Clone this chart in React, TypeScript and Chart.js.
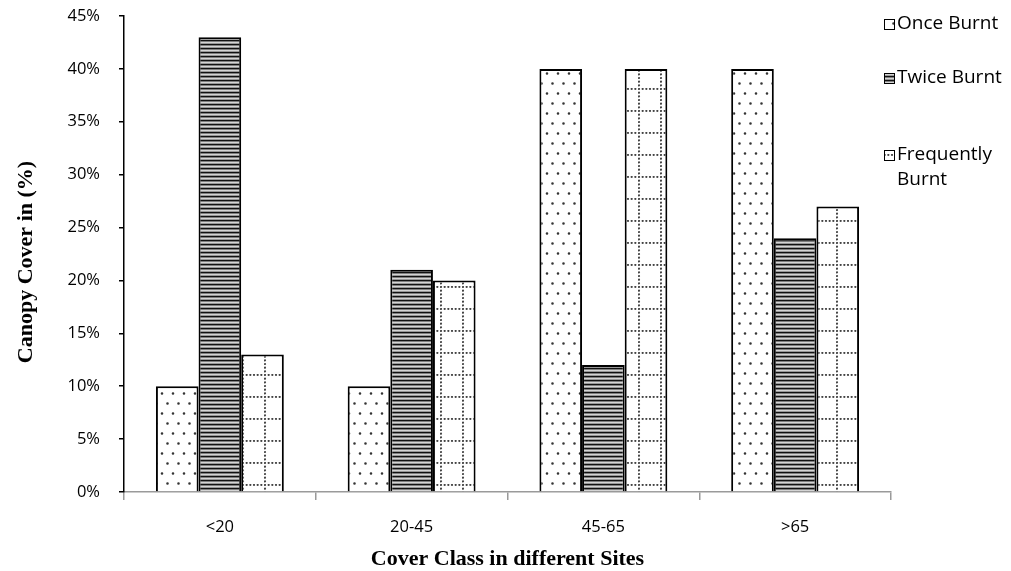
import React, { useEffect, useRef } from "react";
import { Chart, registerables } from "chart.js";

Chart.register(...registerables);

const categories = ["<20", "20-45", "45-65", ">65"];
const onceBurnt = [10, 10, 40, 40];
const twiceBurnt = [43, 21, 12, 24];
const frequentlyBurnt = [13, 20, 40, 27];
const seriesNames = ["Once Burnt", "Twice Burnt", "Frequently Burnt"];
const legendLines = [["Once Burnt"], ["Twice Burnt"], ["Frequently", "Burnt"]];
const yTicks = [0, 5, 10, 15, 20, 25, 30, 35, 40, 45];

const TICK_FONT = "'Open Sans', sans-serif";

function makeTile(w: number, h: number, draw: (c: CanvasRenderingContext2D) => void) {
  const cv = document.createElement("canvas");
  cv.width = w;
  cv.height = h;
  const c = cv.getContext("2d")!;
  c.fillStyle = "#ffffff";
  c.fillRect(0, 0, w, h);
  draw(c);
  return cv;
}

function makePatterns(ctx: CanvasRenderingContext2D) {
  const dots = makeTile(11, 20, (c) => {
    c.fillStyle = "#333";
    c.beginPath();
    c.arc(2.5, 3.5, 1.3, 0, Math.PI * 2);
    c.arc(8, 13.5, 1.3, 0, Math.PI * 2);
    c.fill();
  });
  const stripes = makeTile(4, 4, (c) => {
    c.fillStyle = "#111";
    c.fillRect(0, 0, 4, 1.5);
    c.fillStyle = "#777";
    c.fillRect(0, 1.5, 4, 0.7);
    c.fillStyle = "#d0d0d0";
    c.fillRect(0, 2.2, 4, 1.0);
    c.fillStyle = "#808080";
    c.fillRect(0, 3.2, 4, 0.8);
  });
  const grid = makeTile(22, 22, (c) => {
    c.fillStyle = "#444";
    for (let i = 0; i < 6; i++) {
      const p = i * (22 / 6) + 1;
      c.beginPath();
      c.arc(p, 1, 1.1, 0, Math.PI * 2);
      c.fill();
      if (i > 0) {
        c.beginPath();
        c.arc(1, p, 1.1, 0, Math.PI * 2);
        c.fill();
      }
    }
  });
  return [
    ctx.createPattern(dots, "repeat")!,
    ctx.createPattern(stripes, "repeat")!,
    ctx.createPattern(grid, "repeat")!,
  ];
}

export default function App() {
  const ref = useRef<HTMLCanvasElement | null>(null);

  useEffect(() => {
    const canvas = ref.current!;
    const ctx = canvas.getContext("2d")!;
    const patterns = makePatterns(ctx);

    const overlay = {
      id: "overlay",
      afterDraw(chart: any) {
        const c = chart.ctx as CanvasRenderingContext2D;
        const area = chart.chartArea;
        c.save();
        c.fillStyle = "#000";
        c.font = "bold 22px 'Liberation Serif', 'Times New Roman', serif";
        c.textAlign = "center";
        c.textBaseline = "middle";
        c.fillText("Cover Class in different Sites", (area.left + area.right) / 2, 559);
        c.save();
        c.translate(26, 262);
        c.rotate(-Math.PI / 2);
        c.fillText("Canopy Cover in (%)", 0, 0);
        c.restore();
        const ys = [24, 78, 155];
        c.font = "19px 'Open Sans', sans-serif";
        c.textAlign = "left";
        for (let i = 0; i < 3; i++) {
          const y = ys[i];
          c.fillStyle = patterns[i];
          c.fillRect(884, y - 5, 11, 11);
          c.strokeStyle = "#000";
          c.lineWidth = 1;
          c.strokeRect(884.5, y - 4.5, 10, 10);
          c.fillStyle = "#000";
          legendLines[i].forEach((t, j) => {
            c.fillText(t, 897, y + j * 25);
          });
        }
        c.restore();
      },
    };

    const chart = new Chart(ctx, {
      type: "bar",
      data: {
        labels: categories,
        datasets: [onceBurnt, twiceBurnt, frequentlyBurnt].map((d, i) => ({
          label: seriesNames[i],
          data: d,
          backgroundColor: patterns[i] as any,
          borderColor: "#000",
          borderWidth: 2,
          borderSkipped: "bottom" as const,
          categoryPercentage: 0.667,
          barPercentage: 1.0,
        })),
      },
      options: {
        animation: false,
        responsive: false,
        maintainAspectRatio: false,
        layout: { padding: { left: 0, top: 16, right: 120, bottom: 0 } },
        plugins: {
          legend: { display: false },
          tooltip: { enabled: false },
        },
        scales: {
          x: {
            offset: true,
            grid: {
              offset: true,
              drawOnChartArea: false,
              drawTicks: true,
              tickLength: 8,
              color: "#9a9a9a",
              lineWidth: 1.5,
            },
            border: { color: "#9a9a9a", width: 1.5 },
            ticks: {
              color: "#000",
              padding: 17,
              font: { family: TICK_FONT, size: 16.5 },
            },
            afterFit: (scale: any) => {
              scale.height = 79;
              scale.paddingLeft = 0;
              scale.paddingRight = 0;
            },
          },
          y: {
            min: 0,
            max: 45,
            afterBuildTicks: (scale: any) => {
              scale.ticks = yTicks.map((v) => ({ value: v }));
            },
            grid: {
              drawOnChartArea: false,
              drawTicks: true,
              tickLength: 5,
              color: "#000",
              lineWidth: 1.5,
            },
            border: { color: "#000", width: 1.5 },
            ticks: {
              color: "#000",
              padding: 19,
              font: { family: TICK_FONT, size: 16.5 },
              callback: (v: any) => v + "%",
            },
            afterFit: (scale: any) => {
              scale.width = 124;
              scale.paddingTop = 10;
              scale.paddingBottom = 0;
            },
          },
        },
      },
      plugins: [overlay],
    });
    return () => chart.destroy();
  }, []);

  return (
    <div style={{ position: "fixed", left: 0, top: 0, width: 1011, height: 571, background: "#fff" }}>
      <canvas ref={ref} width={1011} height={571} style={{ display: "block", width: 1011, height: 571 }} />
    </div>
  );
}
